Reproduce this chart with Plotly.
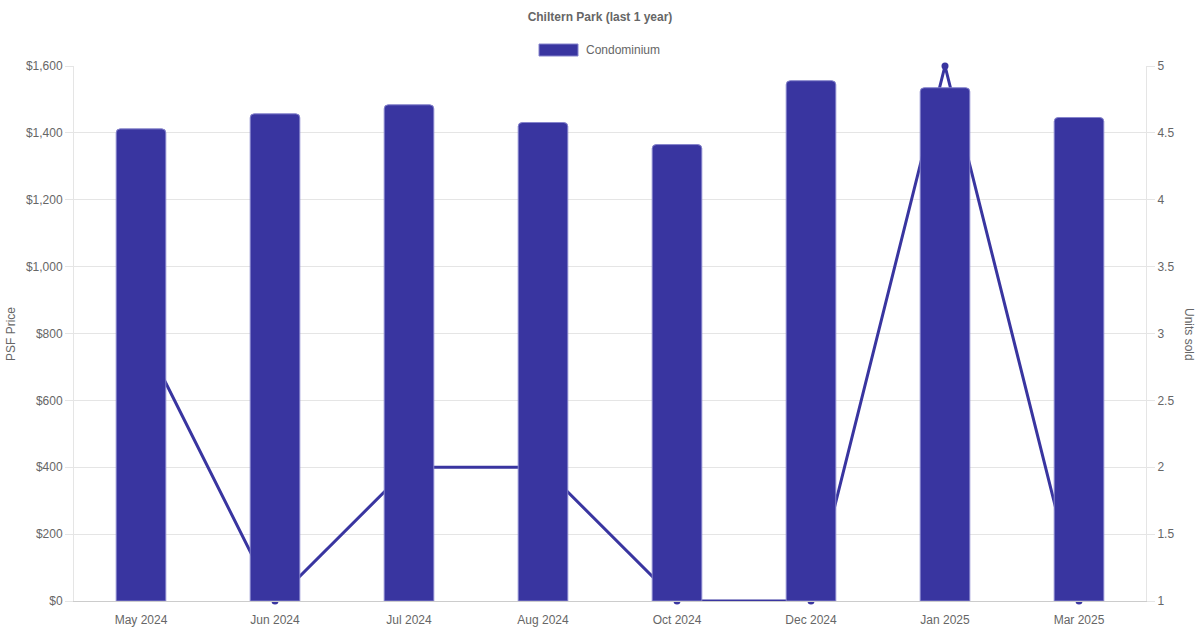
import plotly.graph_objects as go

months = ['May 2024', 'Jun 2024', 'Jul 2024', 'Aug 2024', 'Oct 2024', 'Dec 2024', 'Jan 2025', 'Mar 2025']
psf_price = [1412, 1457, 1484, 1431, 1365, 1556, 1535, 1446]
units_sold = [3, 1, 2, 2, 1, 1, 5, 1]

barColor = '#3935a0'
edgeColor = '#8684cc'
gridColor = '#e5e5e5'
textColor = '#666666'

W, H = 1200, 630
# plot area in pixels: x 74..1146, y 66..601
L, R, T, B = 74, W - 1146, 66, H - 601

fig = go.Figure()

# units line sits on the base axis so the price bars (overlay axis) draw above it
fig.add_trace(go.Scatter(x=months,
                         y=units_sold,
                         mode='lines+markers',
                         name='Units sold',
                         line=dict(color=barColor, width=3),
                         marker=dict(color=barColor, size=7),
                         cliponaxis=False,
                         showlegend=False,
                         yaxis='y'))

fig.add_trace(go.Bar(x=months,
                     y=psf_price,
                     name='Condominium',
                     width=0.37,
                     marker=dict(color=barColor, line=dict(color=edgeColor, width=1), cornerradius=4),
                     showlegend=False,
                     yaxis='y2'))

# pixel -> paper coords
def px_x(p):
   return (p - L) / (W - L - R)

def px_y(p):
   return (H - B - p) / (H - T - B)

axisFont = dict(family='Liberation Sans, Arial, sans-serif', size=12, color=textColor)

fig.update_layout(
    width=W,
    height=H,
    margin=dict(l=L, r=R, t=T, b=B, autoexpand=False),
    paper_bgcolor='white',
    plot_bgcolor='white',
    font=axisFont,
    title=dict(text='<b>Chiltern Park (last 1 year)</b>',
               x=0.5, xref='container', y=1 - 17 / H, yanchor='middle',
               font=dict(family='Liberation Sans, Arial, sans-serif', size=12, color=textColor)),
    xaxis=dict(type='category',
               automargin=False,
               showgrid=False,
               showline=True,
               linecolor='#cccccc',
               ticks='outside',
               ticklen=8,
               tickcolor='rgba(0,0,0,0)',
               tickfont=axisFont),
    yaxis=dict(side='right',
               automargin=False,
               range=[1, 5],
               dtick=0.5,
               showgrid=True,
               gridcolor=gridColor,
               showline=True,
               linecolor=gridColor,
               zeroline=False,
               ticks='outside',
               ticklen=8,
               tickcolor=gridColor,
               tickfont=axisFont),
    yaxis2=dict(side='left',
                automargin=False,
                overlaying='y',
                range=[0, 1600],
                dtick=200,
                tickprefix='$',
                tickformat=',.0f',
                showgrid=False,
                showline=True,
                linecolor=gridColor,
                zeroline=False,
                ticks='outside',
                ticklen=8,
                tickcolor=gridColor,
                tickfont=axisFont),
    showlegend=False,
)

# axis titles (right one reads top to bottom)
fig.add_annotation(text='PSF Price', xref='paper', yref='paper', x=px_x(11), y=px_y(334),
                   xanchor='center', yanchor='middle',
                   textangle=-90, showarrow=False, font=axisFont)
fig.add_annotation(text='Units sold', xref='paper', yref='paper', x=px_x(1189), y=px_y(334),
                   xanchor='center', yanchor='middle',
                   textangle=90, showarrow=False, font=axisFont)

# legend box like the original
fig.add_shape(type='rect', xref='paper', yref='paper',
              x0=px_x(539), x1=px_x(578), y0=px_y(56), y1=px_y(44),
              fillcolor=barColor, line=dict(color=edgeColor, width=1))
fig.add_annotation(text='Condominium', xref='paper', yref='paper', x=px_x(584), y=px_y(50),
                   xanchor='left', yanchor='middle', showarrow=False, font=axisFont)

# drop the default body margin so the 1200x630 figure fills the window exactly
fig.write_html('out.html', config={'displayModeBar': False},
               post_script="document.body.style.margin='0';")
